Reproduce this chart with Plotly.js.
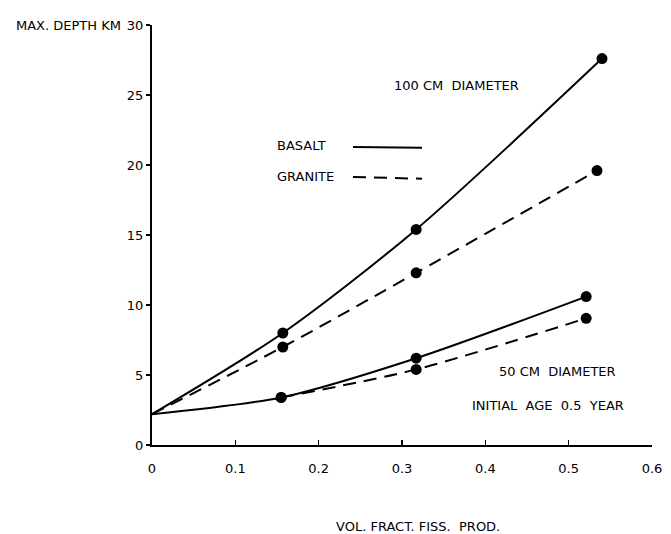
<!DOCTYPE html>
<html>
<head>
<meta charset="utf-8">
<script src="https://cdn.plot.ly/plotly-3.0.1.min.js"></script>
<style>html,body{margin:0;padding:0;background:#fff;}#chart{width:671px;height:534px;}</style>
</head>
<body>
<div id="chart"></div>
<script>
// Volume fraction of fission products (x) vs maximum depth in km (y)
var xBasalt100 = [0, 0.157, 0.317, 0.540];
var yBasalt100 = [2.2, 8.0, 15.4, 27.6];
var xGranite100 = [0, 0.157, 0.317, 0.534];
var yGranite100 = [2.2, 7.0, 12.3, 19.6];
var xBasalt50 = [0, 0.155, 0.317, 0.521];
var yBasalt50 = [2.2, 3.4, 6.2, 10.6];
var xGranite50 = [0.155, 0.317, 0.521];
var yGranite50 = [3.4, 5.4, 9.05];
var xTickVals = [0, 0.1, 0.2, 0.3, 0.4, 0.5, 0.6];
var xTickText = ["0", "0.1", "0.2", "0.3", "0.4", "0.5", "0.6"];
var yTickVals = [0, 5, 10, 15, 20, 25, 30];
var yTickText = ["0", "5", "10", "15", "20", "25", "30"];

var FONT = "DejaVu Sans, Liberation Sans, sans-serif";
var solid = {color: "#000", width: 2, shape: "spline", smoothing: 0.8};
var dashed = {color: "#000", width: 2, shape: "spline", smoothing: 0.8, dash: "13px,8px"};
var dot = {color: "#000", size: 11};

var traces = [
  {x: xBasalt100, y: yBasalt100, mode: "lines", line: solid},
  {x: xGranite100, y: yGranite100, mode: "lines", line: dashed},
  {x: xBasalt50, y: yBasalt50, mode: "lines", line: solid},
  {x: xGranite50, y: yGranite50, mode: "lines", line: dashed},
  {x: xBasalt100.slice(1), y: yBasalt100.slice(1), mode: "markers", marker: dot},
  {x: xGranite100.slice(1), y: yGranite100.slice(1), mode: "markers", marker: dot},
  {x: xBasalt50.slice(1), y: yBasalt50.slice(1), mode: "markers", marker: dot},
  {x: xGranite50, y: yGranite50, mode: "markers", marker: dot}
];

function txt(s, x, y, xa, size) {
  return {text: s, x: x, y: y, xref: "paper", yref: "paper", xanchor: xa || "left", yanchor: "middle",
          showarrow: false, font: {family: FONT, size: size || 13, color: "#000"}};
}

var layout = {
  width: 671, height: 534,
  margin: {l: 152, r: 19, t: 25, b: 89},
  paper_bgcolor: "#fff", plot_bgcolor: "#fff",
  showlegend: false,
  font: {family: FONT, size: 13, color: "#000"},
  xaxis: {
    range: [0, 0.6], tickvals: xTickVals, ticktext: xTickText,
    showgrid: false, zeroline: false, showline: true, linecolor: "#000", linewidth: 2,
    ticks: "inside", ticklen: 5, tickwidth: 1.5, tickcolor: "#000", ticklabelstandoff: 10,
    tickfont: {family: FONT, size: 13, color: "#000"}, fixedrange: true
  },
  yaxis: {
    range: [0, 30], tickvals: yTickVals, ticktext: yTickText,
    showgrid: false, zeroline: false, showline: true, linecolor: "#000", linewidth: 2,
    ticks: "outside", ticklen: 4, tickwidth: 1.5, tickcolor: "#000",
    tickfont: {family: FONT, size: 13, color: "#000"}, fixedrange: true
  },
  annotations: [
    txt("MAX. DEPTH KM", -0.058, 1.0, "right", 13),
    txt("100 CM  DIAMETER", 0.48, 0.857, "left", 13),
    txt("BASALT", 0.246, 0.712, "left", 13),
    txt("GRANITE", 0.246, 0.640, "left", 13),
    txt("50 CM  DIAMETER", 0.69, 0.174, "left", 13),
    txt("INITIAL  AGE  0.5  YEAR", 0.636, 0.095, "left", 13),
    txt("VOL. FRACT. FISS.  PROD.", 0.532, -0.195, "center", 13)
  ],
  shapes: [
    {type: "line", xref: "paper", yref: "paper", x0: 0.402, x1: 0.54, y0: 0.7095, y1: 0.7075,
     line: {color: "#000", width: 2}},
    {type: "line", xref: "paper", yref: "paper", x0: 0.402, x1: 0.54, y0: 0.638, y1: 0.634,
     line: {color: "#000", width: 2, dash: "13px,8px"}}
  ]
};

Plotly.newPlot("chart", traces, layout, {staticPlot: true, displayModeBar: false});
</script>
</body>
</html>
